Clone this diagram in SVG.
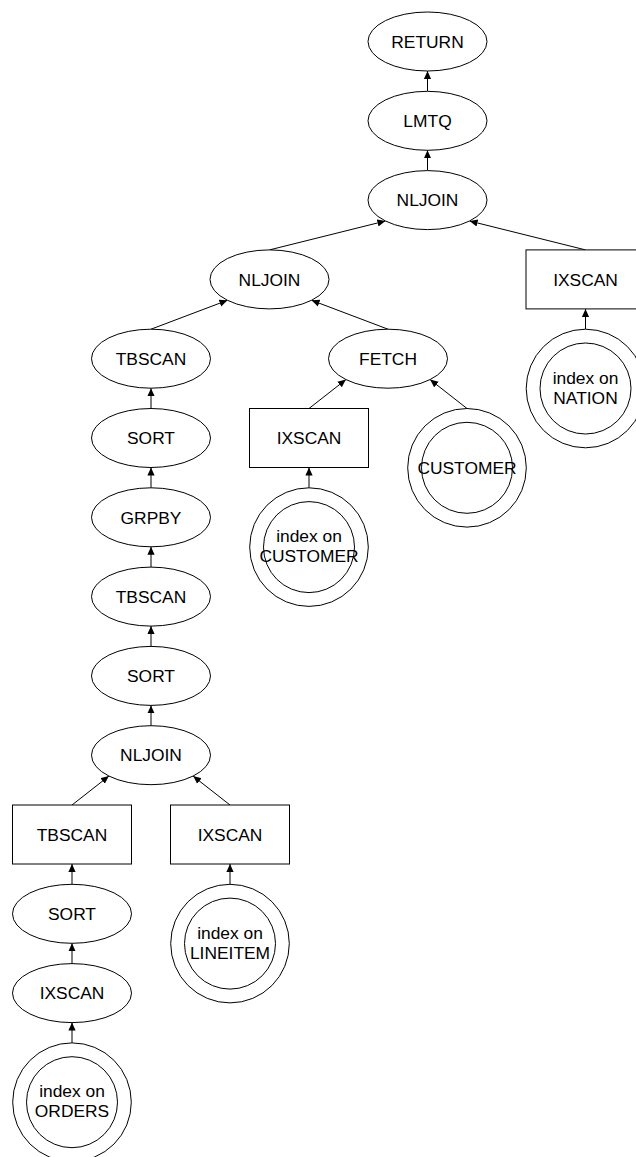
<svg xmlns="http://www.w3.org/2000/svg" width="636" height="1157" viewBox="0 0 636 1157">
  <style>
    .op { fill: #ffffff; stroke: #000000; stroke-width: 1; }
    .lbl { font-family: "Liberation Sans", Arial, sans-serif; font-size: 17.4px; fill: #000000; text-anchor: middle; }
    .edge { stroke: #000000; stroke-width: 1; fill: none; marker-end: url(#arrow); }
  </style>
  <defs>
    <marker id="arrow" markerUnits="userSpaceOnUse" markerWidth="10" markerHeight="10" refX="8" refY="4" orient="auto">
      <path d="M0,0.4 L8,4 L0,7.6 Z" fill="#000000"/>
    </marker>
  </defs>
  <rect width="636" height="1157" fill="#ffffff"/>

  <!-- connectors: child top centre to parent -->
  <g id="edges">
    <line class="edge" x1="427.5" y1="91.3" x2="427.5" y2="71"/>
    <line class="edge" x1="427.5" y1="170.6" x2="427.5" y2="150.3"/>
    <line class="edge" x1="269.5" y1="249.9" x2="385.4" y2="221.0"/>
    <line class="edge" x1="585.5" y1="249.9" x2="469.6" y2="221.0"/>
    <line class="edge" x1="151" y1="329.2" x2="227.4" y2="300.3"/>
    <line class="edge" x1="388" y1="329.2" x2="311.6" y2="300.3"/>
    <line class="edge" x1="585.5" y1="329.2" x2="585.5" y2="308.9"/>
    <line class="edge" x1="151" y1="408.5" x2="151" y2="388.2"/>
    <line class="edge" x1="309" y1="408.5" x2="345.9" y2="379.6"/>
    <line class="edge" x1="467" y1="408.5" x2="430.1" y2="379.6"/>
    <line class="edge" x1="151" y1="487.8" x2="151" y2="467.5"/>
    <line class="edge" x1="309" y1="487.8" x2="309" y2="467.5"/>
    <line class="edge" x1="151" y1="567.1" x2="151" y2="546.8"/>
    <line class="edge" x1="151" y1="646.4" x2="151" y2="626.1"/>
    <line class="edge" x1="151" y1="725.7" x2="151" y2="705.4"/>
    <line class="edge" x1="72" y1="805" x2="108.9" y2="776.1"/>
    <line class="edge" x1="230" y1="805" x2="193.1" y2="776.1"/>
    <line class="edge" x1="72" y1="884.3" x2="72" y2="864"/>
    <line class="edge" x1="230" y1="884.3" x2="230" y2="864"/>
    <line class="edge" x1="72" y1="963.6" x2="72" y2="943.3"/>
    <line class="edge" x1="72" y1="1042.9" x2="72" y2="1022.6"/>
  </g>

  <g id="return">
    <ellipse class="op" cx="427.5" cy="41.5" rx="59.5" ry="29.5"/>
    <text class="lbl" x="427.5" y="47.7">RETURN</text>
  </g>
  <g id="lmtq">
    <ellipse class="op" cx="427.5" cy="120.8" rx="59.5" ry="29.5"/>
    <text class="lbl" x="427.5" y="127">LMTQ</text>
  </g>
  <g id="nljoin-top">
    <ellipse class="op" cx="427.5" cy="200.1" rx="59.5" ry="29.5"/>
    <text class="lbl" x="427.5" y="206.3">NLJOIN</text>
  </g>
  <g id="nljoin-mid">
    <ellipse class="op" cx="269.5" cy="279.4" rx="59.5" ry="29.5"/>
    <text class="lbl" x="269.5" y="285.6">NLJOIN</text>
  </g>
  <g id="ixscan-nation">
    <rect class="op" x="526" y="249.9" width="119" height="59"/>
    <text class="lbl" x="585.5" y="285.6">IXSCAN</text>
  </g>
  <g id="tbscan-upper">
    <ellipse class="op" cx="151" cy="358.7" rx="59.5" ry="29.5"/>
    <text class="lbl" x="151" y="364.9">TBSCAN</text>
  </g>
  <g id="fetch">
    <ellipse class="op" cx="388" cy="358.7" rx="59.5" ry="29.5"/>
    <text class="lbl" x="388" y="364.9">FETCH</text>
  </g>
  <g id="index-nation">
    <circle class="op" cx="585.5" cy="388.5" r="59.3"/>
    <circle class="op" cx="585.5" cy="388.5" r="45.5"/>
    <text class="lbl" x="585.5" y="383.7">index on</text>
    <text class="lbl" x="585.5" y="403.7">NATION</text>
  </g>
  <g id="sort-upper">
    <ellipse class="op" cx="151" cy="438" rx="59.5" ry="29.5"/>
    <text class="lbl" x="151" y="444.2">SORT</text>
  </g>
  <g id="ixscan-customer">
    <rect class="op" x="249.5" y="408.5" width="119" height="59"/>
    <text class="lbl" x="309" y="444.2">IXSCAN</text>
  </g>
  <g id="customer">
    <circle class="op" cx="467" cy="467.8" r="59.3"/>
    <circle class="op" cx="467" cy="467.8" r="45.5"/>
    <text class="lbl" x="467" y="474">CUSTOMER</text>
  </g>
  <g id="grpby">
    <ellipse class="op" cx="151" cy="517.3" rx="59.5" ry="29.5"/>
    <text class="lbl" x="151" y="523.5">GRPBY</text>
  </g>
  <g id="index-customer">
    <circle class="op" cx="309" cy="547.1" r="59.3"/>
    <circle class="op" cx="309" cy="547.1" r="45.5"/>
    <text class="lbl" x="309" y="542.3">index on</text>
    <text class="lbl" x="309" y="562.3">CUSTOMER</text>
  </g>
  <g id="tbscan-mid">
    <ellipse class="op" cx="151" cy="596.6" rx="59.5" ry="29.5"/>
    <text class="lbl" x="151" y="602.8">TBSCAN</text>
  </g>
  <g id="sort-mid">
    <ellipse class="op" cx="151" cy="675.9" rx="59.5" ry="29.5"/>
    <text class="lbl" x="151" y="682.1">SORT</text>
  </g>
  <g id="nljoin-low">
    <ellipse class="op" cx="151" cy="755.2" rx="59.5" ry="29.5"/>
    <text class="lbl" x="151" y="761.4">NLJOIN</text>
  </g>
  <g id="tbscan-orders">
    <rect class="op" x="12.5" y="805" width="119" height="59"/>
    <text class="lbl" x="72" y="840.7">TBSCAN</text>
  </g>
  <g id="ixscan-lineitem">
    <rect class="op" x="170.5" y="805" width="119" height="59"/>
    <text class="lbl" x="230" y="840.7">IXSCAN</text>
  </g>
  <g id="sort-low">
    <ellipse class="op" cx="72" cy="913.8" rx="59.5" ry="29.5"/>
    <text class="lbl" x="72" y="920">SORT</text>
  </g>
  <g id="index-lineitem">
    <circle class="op" cx="230" cy="943.6" r="59.3"/>
    <circle class="op" cx="230" cy="943.6" r="45.5"/>
    <text class="lbl" x="230" y="938.8">index on</text>
    <text class="lbl" x="230" y="958.8">LINEITEM</text>
  </g>
  <g id="ixscan-orders">
    <ellipse class="op" cx="72" cy="993.1" rx="59.5" ry="29.5"/>
    <text class="lbl" x="72" y="999.3">IXSCAN</text>
  </g>
  <g id="index-orders">
    <circle class="op" cx="72" cy="1102.2" r="59.3"/>
    <circle class="op" cx="72" cy="1102.2" r="45.5"/>
    <text class="lbl" x="72" y="1097.4">index on</text>
    <text class="lbl" x="72" y="1117.4">ORDERS</text>
  </g>
</svg>
